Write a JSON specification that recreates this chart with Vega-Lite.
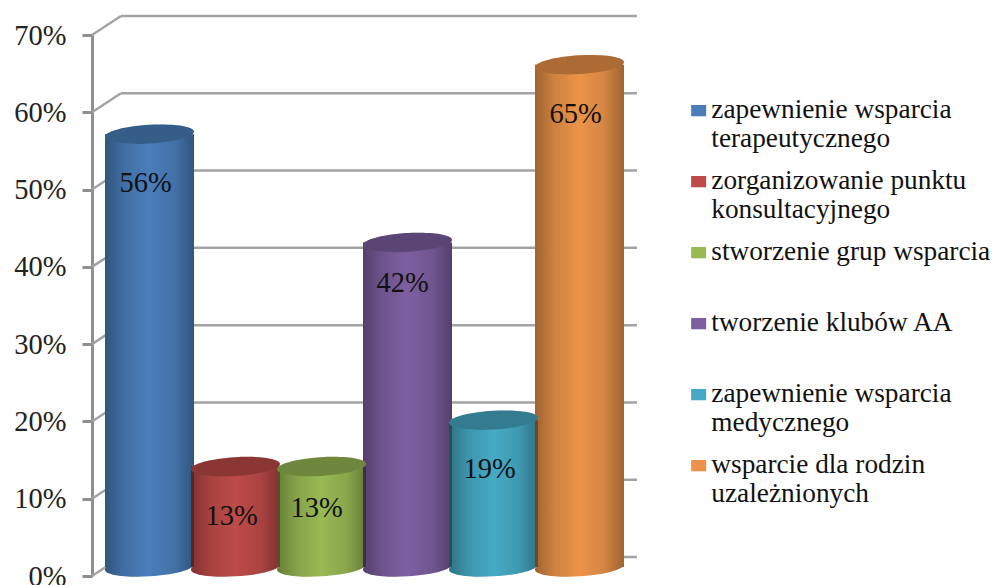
{
"$schema":"https://vega.github.io/schema/vega-lite/v6.json",
"autosize":{"type":"none"},
"padding":{"left":92,"top":35,"right":399,"bottom":9},
"width":516,"height":541,
"background":"white",
"config":{"view":{"stroke":null},"font":"Liberation Serif"},
"datasets":{
"wyniki":[
{"nazwa":"zapewnienie wsparcia terapeutycznego","udzial":0.56,"grupa":"a"},
{"nazwa":"zorganizowanie punktu konsultacyjnego","udzial":0.13,"grupa":"a"},
{"nazwa":"stworzenie grup wsparcia","udzial":0.13,"grupa":"b"},
{"nazwa":"tworzenie klubów AA","udzial":0.42,"grupa":"b"},
{"nazwa":"zapewnienie wsparcia medycznego","udzial":0.19,"grupa":"a"},
{"nazwa":"wsparcie dla rodzin uzależnionych","udzial":0.65,"grupa":"a"}],
"poziomy":[{"poziom":0},{"poziom":0.1},{"poziom":0.2},{"poziom":0.3},{"poziom":0.4},{"poziom":0.5},{"poziom":0.6},{"poziom":0.7}]
},
"layer":[
{"data":{"name":"poziomy"},"mark":{"type":"rule","stroke":"#a3a3a3","strokeWidth":2.5,"yOffset":-19},
 "encoding":{"x":{"value":29},"x2":{"value":545},"y":{"field":"poziom","type":"quantitative","scale":{"domain":[0,0.7]},"axis":{"values":[0,0.1,0.2,0.3,0.4,0.5,0.6,0.7],"format":".0%","title":null,"grid":false,"domain":true,"domainColor":"#8f8f8f","domainWidth":3,"tickColor":"#8f8f8f","tickWidth":3,"tickSize":10,"labelFontSize":28.5,"labelFont":"Liberation Serif","labelColor":"#222222","labelPadding":16,"labelFlush":false,"labelOverlap":false,"labelBound":false}}}},
{"data":{"name":"poziomy"},"mark":{"type":"rule","stroke":"#a3a3a3","strokeWidth":2.5,"y2Offset":-19},
 "encoding":{"x":{"value":0},"x2":{"value":29},"y":{"field":"poziom","type":"quantitative"},"y2":{"field":"poziom"}}},
{"mark":{"type":"rule","stroke":"#a3a3a3","strokeWidth":3,"y2Offset":-19},
 "encoding":{"x":{"value":516},"x2":{"value":545},"y":{"datum":0},"y2":{"datum":0}}},
{"mark":{"type":"rule","stroke":"#a3a3a3","strokeWidth":3},
 "encoding":{"y":{"datum":0}}},
{"data":{"name":"wyniki"},
 "encoding":{"x":{"field":"nazwa","type":"nominal","sort":null,"axis":null,"scale":{"type":"band","range":[14.5,530.5],"paddingInner":0,"paddingOuter":0}}},
 "layer":[
 {"mark":{"type":"point","filled":true,"opacity":1,"size":7921,"yOffset":-9,"shape":"M-1,0.06A1,0.21,-3.5,1,1,1,-0.06A1,0.21,-3.5,1,1,-1,0.06Z"},
  "encoding":{"y":{"datum":0},"color":{"field":"nazwa","type":"nominal","sort":null,"scale":{"range":["#4a7ebb","#be4b48","#98b954","#7d5fa0","#46aac5","#ec9349"]},
   "legend":{"orient":"none","legendX":593,"legendY":47,"title":null,"symbolType":"M-1,1.25H1V2.75H-1Z","symbolSize":225,"symbolOpacity":1,"symbolStrokeWidth":0,"symbolBaseline":"top","labelBaseline":"top","labelFont":"Liberation Serif","labelFontSize":27.3,"labelColor":"#111111","labelLimit":320,"labelOffset":-1,"rowPadding":0,"gridAlign":"all",
    "labelExpr":"datum.label=='zapewnienie wsparcia terapeutycznego'?['zapewnienie wsparcia','terapeutycznego']:datum.label=='zorganizowanie punktu konsultacyjnego'?['zorganizowanie punktu','konsultacyjnego']:datum.label=='zapewnienie wsparcia medycznego'?['zapewnienie wsparcia','medycznego']:datum.label=='wsparcie dla rodzin uzależnionych'?['wsparcie dla rodzin','uzależnionych']:[datum.label,' ']"}}}},
 {"mark":{"type":"point","filled":true,"opacity":1,"size":7921,"yOffset":-9,"shape":"M-1,0.06A1,0.21,-3.5,1,1,1,-0.06A1,0.21,-3.5,1,1,-1,0.06Z","fill":{"gradient":"linear","x1":0,"x2":1,"y1":0,"y2":0,"stops":[{"offset":0,"color":"rgba(0,0,0,0.33)"},{"offset":0.22,"color":"rgba(0,0,0,0.12)"},{"offset":0.5,"color":"rgba(0,0,0,0)"},{"offset":0.78,"color":"rgba(0,0,0,0.1)"},{"offset":1,"color":"rgba(0,0,0,0.33)"}]}},
  "encoding":{"y":{"datum":0}}},
 {"mark":{"type":"bar","size":89,"yOffset":-9,"y2Offset":-9,"opacity":1},
  "encoding":{"y":{"field":"udzial","type":"quantitative","stack":null},"y2":{"datum":0},"color":{"field":"nazwa","type":"nominal","sort":null}}},
 {"mark":{"type":"bar","size":89,"yOffset":-9,"y2Offset":-9,"fill":{"gradient":"linear","x1":0,"x2":1,"y1":0,"y2":0,"stops":[{"offset":0,"color":"rgba(0,0,0,0.33)"},{"offset":0.22,"color":"rgba(0,0,0,0.12)"},{"offset":0.5,"color":"rgba(0,0,0,0)"},{"offset":0.78,"color":"rgba(0,0,0,0.1)"},{"offset":1,"color":"rgba(0,0,0,0.33)"}]}},
  "encoding":{"y":{"field":"udzial","type":"quantitative","stack":null},"y2":{"datum":0}}},
 {"mark":{"type":"point","filled":true,"opacity":1,"size":7921,"yOffset":-9,"shape":"M-1,0.06A1,0.21,-3.5,1,1,1,-0.06A1,0.21,-3.5,1,1,-1,0.06Z"},
  "encoding":{"y":{"field":"udzial","type":"quantitative"},"color":{"field":"nazwa","type":"nominal","sort":null}}},
 {"mark":{"type":"point","filled":true,"opacity":0.27,"color":"black","size":7921,"yOffset":-9,"shape":"M-1,0.06A1,0.21,-3.5,1,1,1,-0.06A1,0.21,-3.5,1,1,-1,0.06Z"},
  "encoding":{"y":{"field":"udzial","type":"quantitative"}}},
 {"transform":[{"filter":"datum.grupa=='a'"}],"mark":{"type":"text","fontSize":28.5,"font":"Liberation Serif","color":"#111111","dy":40,"dx":-4},
  "encoding":{"y":{"field":"udzial","type":"quantitative"},"text":{"field":"udzial","type":"quantitative","format":".0%"}}},
 {"transform":[{"filter":"datum.grupa=='b'"}],"mark":{"type":"text","fontSize":28.5,"font":"Liberation Serif","color":"#111111","dy":32,"dx":-5},
  "encoding":{"y":{"field":"udzial","type":"quantitative"},"text":{"field":"udzial","type":"quantitative","format":".0%"}}}
 ]}
]
}
